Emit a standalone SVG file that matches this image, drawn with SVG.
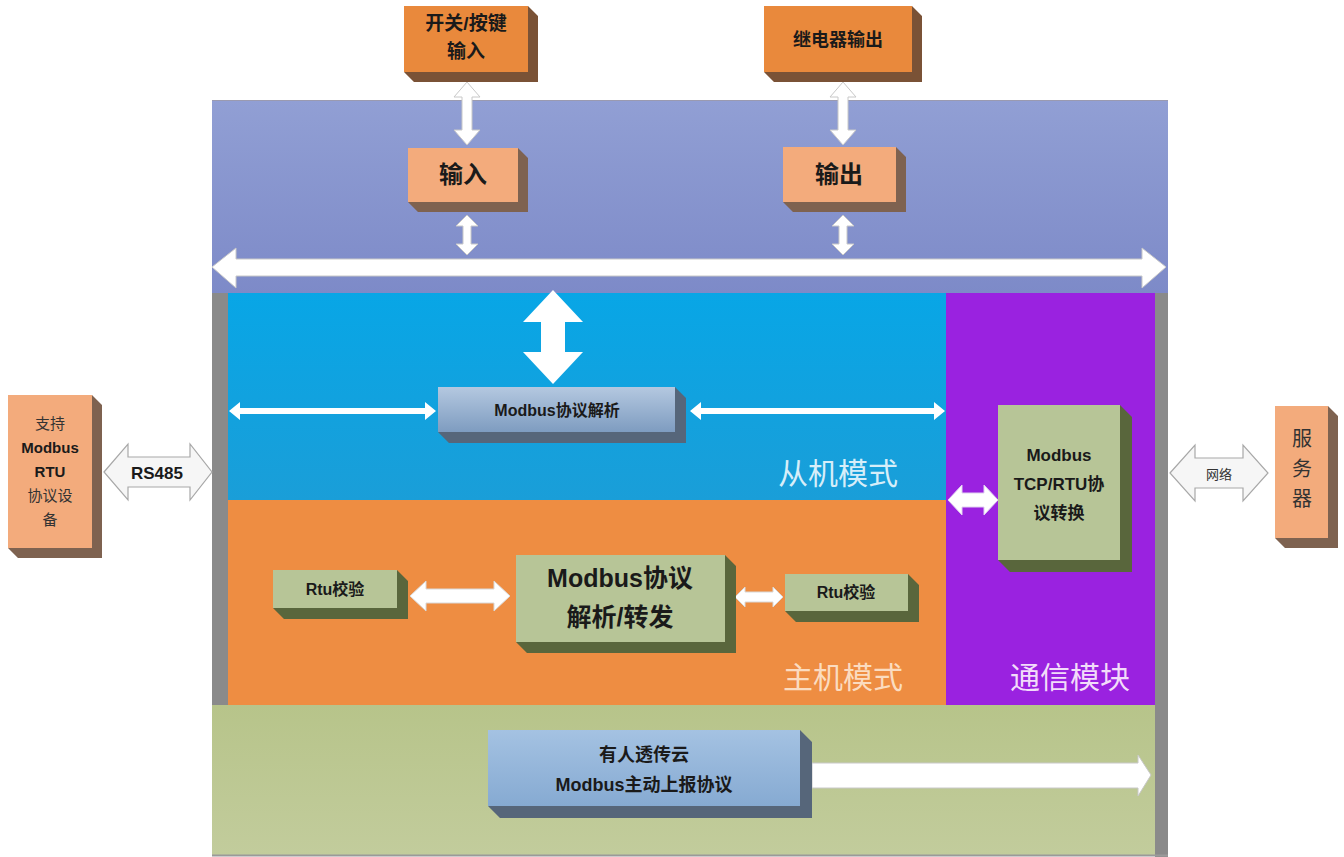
<svg xmlns="http://www.w3.org/2000/svg" width="1344" height="857" viewBox="0 0 1344 857">
<defs>
<linearGradient id="topg" x1="0" y1="0" x2="0" y2="1"><stop offset="0" stop-color="#919fd4"/><stop offset="1" stop-color="#7d8ac8"/></linearGradient>
<linearGradient id="blueg" x1="0" y1="0" x2="0" y2="1"><stop offset="0" stop-color="#08a6e6"/><stop offset="1" stop-color="#1a9ed8"/></linearGradient>
<linearGradient id="greeng" x1="0" y1="0" x2="0" y2="1"><stop offset="0" stop-color="#b7c48a"/><stop offset="1" stop-color="#c2cc9c"/></linearGradient>
<linearGradient id="boxb" x1="0" y1="0" x2="0" y2="1"><stop offset="0" stop-color="#b4c8e0"/><stop offset="1" stop-color="#7e9cc0"/></linearGradient>
<linearGradient id="boxb2" x1="0" y1="0" x2="0" y2="1"><stop offset="0" stop-color="#a4c2e2"/><stop offset="1" stop-color="#86aad2"/></linearGradient>
</defs>
<style>
text{font-family:"Liberation Sans","Noto Sans CJK SC",sans-serif;text-anchor:middle;fill:#1a1a1a;font-weight:bold}
.w{fill:#ffffff;stroke:#c8c8c8;stroke-width:1}
.h{fill:#f6f6f6;stroke:#a8a8a8;stroke-width:1.2}
.or{fill:#e9893c}.ors{fill:#7a5236}
.sa{fill:#f3ab7c}.sas{fill:#7e6250}
.gr{fill:#b7c597}.grs{fill:#59663c}
.bs{fill:#56667a}
.lbl{font-weight:normal;font-size:30px}
</style>
<rect width="1344" height="857" fill="#ffffff"/>
<g id="container">
<rect x="212" y="100" width="956" height="194" fill="url(#topg)"/>
<line x1="212" y1="100.5" x2="1168" y2="100.5" stroke="#9a9ab0" stroke-width="1"/>
<rect x="212" y="293" width="16" height="412" fill="#8a8a8a"/>
<rect x="1155" y="293" width="13" height="564" fill="#8a8a8a"/>
</g>
<g id="slave-mode">
<rect x="228" y="293" width="718" height="207" fill="url(#blueg)"/>
<text x="838" y="484" class="lbl" style="fill:#d6eef9">从机模式</text>
</g>
<g id="master-mode">
<rect x="228" y="500" width="718" height="205" fill="#ee8d42"/>
<text x="843" y="688" class="lbl" style="fill:#fbdcc0">主机模式</text>
</g>
<g id="comm-module">
<rect x="946" y="293" width="209" height="412" fill="#9a22e0"/>
<text x="1070" y="688" class="lbl" style="fill:#f2dcfa">通信模块</text>
</g>
<g id="cloud-area">
<rect x="212" y="705" width="943" height="150" fill="url(#greeng)"/>
<line x1="212" y1="855.5" x2="1168" y2="855.5" stroke="#9a9a9a" stroke-width="2"/>
</g>

<g id="connectors">
<polygon class="w" points="212,267 236,248 236,259 1142,259 1142,248 1166,267 1142,288 1142,276 236,276 236,288"/>
<polygon class="w" points="467,82 480,97 472,97 472,130 480,130 467,145 454,130 462,130 462,97 454,97"/>
<polygon class="w" points="843,82 856,97 848,97 848,130 856,130 843,145 830,130 838,130 838,97 830,97"/>
<polygon class="w" points="467,215 478,226 471,226 471,244 478,244 467,255 456,244 463,244 463,226 456,226"/>
<polygon class="w" points="843,215 854,226 847,226 847,244 854,244 843,255 832,244 839,244 839,226 832,226"/>
<polygon fill="#ffffff" points="553,290 583,322 565,322 565,352 583,352 553,384 523,352 541,352 541,322 523,322"/>
<polygon fill="#ffffff" points="229,411 240,402 240,408 425,408 425,402 436,411 425,420 425,414 240,414 240,420"/>
<polygon fill="#ffffff" points="690,411 701,402 701,408 934,408 934,402 945,411 934,420 934,414 701,414 701,420"/>
<polygon class="h" points="104,472 128,444 128,457 190,457 190,444 212,472 190,500 190,487 128,487 128,500"/>
<text x="157" y="479" font-size="17">RS485</text>
<polygon class="h" points="1170,473 1195,445 1195,458 1243,458 1243,445 1268,473 1243,501 1243,488 1195,488 1195,501"/>
<text x="1219" y="479" font-size="13" style="font-weight:normal;fill:#333">网络</text>
<polygon fill="#ffffff" stroke="#e0d0f0" points="948,500 962,485 962,493 984,493 984,485 998,500 984,515 984,507 962,507 962,515"/>
<polygon fill="#ffffff" stroke="#d8d8d8" points="410,596 426,581 426,589 494,589 494,581 510,596 494,611 494,603 426,603 426,611"/>
<polygon fill="#ffffff" stroke="#d8d8d8" points="735,597 745,587 745,592 773,592 773,587 783,597 773,607 773,602 745,602 745,607"/>
<polygon fill="#ffffff" stroke="#c8c8c8" points="812,763 1138,763 1138,755 1151,775 1138,796 1138,788 812,788"/>
</g>

<g id="switch-input">
<polygon class="ors" points="528,6 538,16 538,82 414,82 404,72 528,72"/>
<rect x="404" y="6" width="124" height="66" class="or"/>
<text x="466" y="30" font-size="19">开关/按键</text>
<text x="466" y="58" font-size="19">输入</text>
</g>
<g id="relay-output">
<polygon class="ors" points="912,6 922,16 922,82 774,82 764,72 912,72"/>
<rect x="764" y="6" width="148" height="66" class="or"/>
<text x="838" y="46" font-size="18">继电器输出</text>
</g>
<g id="input">
<polygon class="sas" points="518,148 528,158 528,212 418,212 408,202 518,202"/>
<rect x="408" y="148" width="110" height="54" class="sa"/>
<text x="463" y="183" font-size="24">输入</text>
</g>
<g id="output">
<polygon class="sas" points="896,147 906,157 906,212 793,212 783,202 896,202"/>
<rect x="783" y="147" width="113" height="55" class="sa"/>
<text x="839" y="183" font-size="24">输出</text>
</g>
<g id="modbus-parse">
<polygon class="bs" points="675,387 686,398 686,443 449,443 438,432 675,432"/>
<rect x="438" y="387" width="237" height="45" fill="url(#boxb)"/>
<text x="557" y="416" font-size="16">Modbus协议解析</text>
</g>
<g id="rtu-device">
<polygon class="sas" points="92,395 102,405 102,558 18,558 8,548 92,548"/>
<rect x="8" y="395" width="84" height="153" class="sa"/>
<text x="50" y="429" font-size="15" style="font-weight:normal;fill:#333">支持</text>
<text x="50" y="453" font-size="15">Modbus</text>
<text x="50" y="477" font-size="15">RTU</text>
<text x="50" y="501" font-size="15" style="font-weight:normal;fill:#333">协议设</text>
<text x="50" y="525" font-size="15" style="font-weight:normal;fill:#333">备</text>
</g>
<g id="server">
<polygon class="sas" points="1328,406 1338,416 1338,548 1285,548 1275,538 1328,538"/>
<rect x="1275" y="406" width="53" height="132" class="sa"/>
<text x="1302" y="446" font-size="20" style="font-weight:normal;fill:#333">服</text>
<text x="1302" y="476" font-size="20" style="font-weight:normal;fill:#333">务</text>
<text x="1302" y="506" font-size="20" style="font-weight:normal;fill:#333">器</text>
</g>
<g id="tcp-rtu">
<polygon class="grs" points="1120,405 1132,417 1132,572 1010,572 998,560 1120,560"/>
<rect x="998" y="405" width="122" height="155" class="gr"/>
<text x="1059" y="461" font-size="17">Modbus</text>
<text x="1059" y="490" font-size="17">TCP/RTU协</text>
<text x="1059" y="519" font-size="17">议转换</text>
</g>
<g id="rtu-check-left">
<polygon class="grs" points="397,570 408,581 408,619 284,619 273,608 397,608"/>
<rect x="273" y="570" width="124" height="38" class="gr"/>
<text x="335" y="595" font-size="16">Rtu校验</text>
</g>
<g id="modbus-forward">
<polygon class="grs" points="725,555 736,566 736,653 527,653 516,642 725,642"/>
<rect x="516" y="555" width="209" height="87" class="gr"/>
<text x="620" y="587" font-size="25">Modbus协议</text>
<text x="620" y="626" font-size="25">解析/转发</text>
</g>
<g id="rtu-check-right">
<polygon class="grs" points="908,574 919,585 919,622 796,622 785,611 908,611"/>
<rect x="785" y="574" width="123" height="37" class="gr"/>
<text x="846" y="598" font-size="16">Rtu校验</text>
</g>
<g id="cloud-report">
<polygon class="bs" points="800,730 812,742 812,818 500,818 488,806 800,806"/>
<rect x="488" y="730" width="312" height="76" fill="url(#boxb2)"/>
<text x="644" y="761" font-size="18">有人透传云</text>
<text x="644" y="791" font-size="18">Modbus主动上报协议</text>
</g>
</svg>
